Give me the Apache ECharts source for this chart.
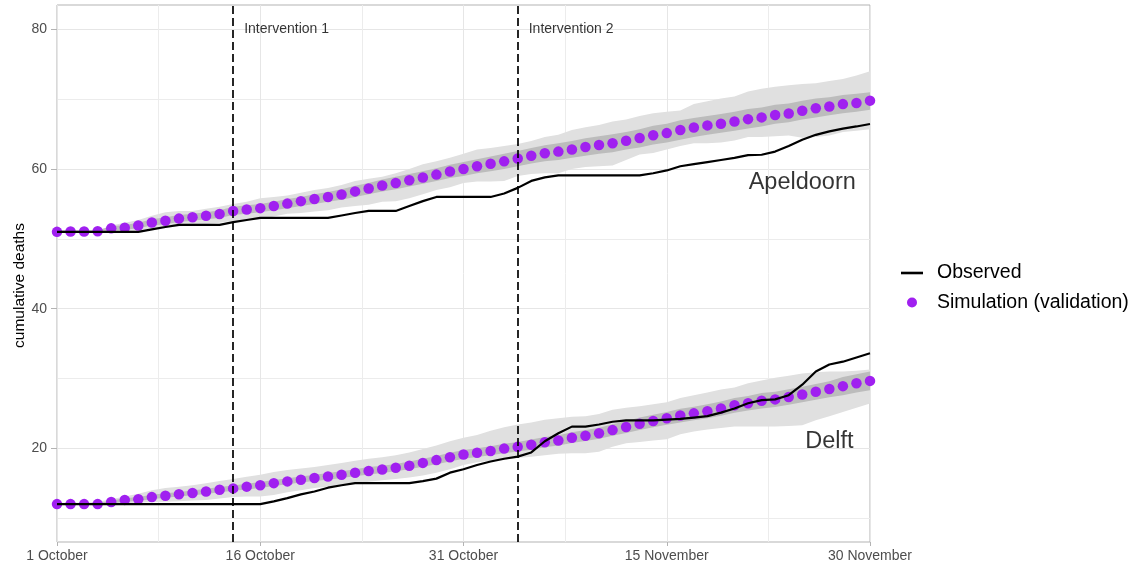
<!DOCTYPE html>
<html>
<head>
<meta charset="utf-8">
<script src="https://cdn.jsdelivr.net/npm/echarts@6/dist/echarts.min.js"></script>
<style>
  html, body { margin: 0; padding: 0; background: #fff; }
  #chart { width: 1139px; height: 568px; }
</style>
</head>
<body>
<div id="chart"></div>
<script>
// Days since 1 October (0 = 1 October, 60 = 30 November)
const days = Array.from({ length: 61 }, (_, i) => i);
const tickLabels = ['1 October', '16 October', '31 October', '15 November', '30 November'];
const yTicks = [20, 40, 60, 80];
const interventions = [13, 34];
const interventionNames = ['Intervention 1', 'Intervention 2'];

// Apeldoorn
const apelObserved = [51, 51, 51, 51, 51, 51, 51, 51.35, 51.7, 52, 52, 52, 52, 52.4, 52.7, 53, 53, 53, 53, 53, 53,
  53.35, 53.7, 54, 54, 54, 54.7, 55.4, 56, 56, 56, 56, 56, 56.5, 57.3, 58.3, 58.8, 59.1, 59.1, 59.1, 59.1,
  59.1, 59.1, 59.1, 59.4, 59.8, 60.4, 60.7, 61.0, 61.3, 61.6, 62.0, 62.05, 62.5, 63.3, 64.2, 64.9, 65.4, 65.8, 66.1, 66.45];
const apelSim = [51, 51.05, 51.05, 51.1, 51.5, 51.6, 51.9, 52.35, 52.6, 52.9, 53.1, 53.3, 53.55, 54.0, 54.2, 54.4,
  54.7, 55.05, 55.4, 55.7, 56.0, 56.35, 56.8, 57.2, 57.65, 58.0, 58.4, 58.8, 59.2, 59.65, 60.0, 60.4, 60.75, 61.1,
  61.5, 61.9, 62.25, 62.5, 62.8, 63.15, 63.45, 63.7, 64.05, 64.45, 64.85, 65.15, 65.6, 65.95, 66.25, 66.5, 66.8,
  67.15, 67.4, 67.75, 67.95, 68.35, 68.7, 68.95, 69.3, 69.45, 69.8];
const apelLow95 = [51, 51, 51, 51, 51.0, 51.0, 51.2, 51.5, 51.6, 51.8, 51.9, 52.1, 52.3, 52.6, 52.7, 52.8, 53.2,
  53.6, 53.7, 53.9, 54.1, 54.5, 54.7, 54.9, 55.3, 55.4, 55.8, 56.4, 57.0, 57.4, 58.0, 58.2, 58.2, 58.3, 59.0, 59.3,
  59.4, 59.4, 60.0, 60.3, 60.4, 60.5, 61.3, 62.1, 62.3, 62.8, 63.3, 63.7, 63.7, 63.8, 64.1, 64.6, 64.6, 64.7, 64.8,
  64.5, 64.6, 64.8, 65.3, 65.5, 65.7];
const apelHigh95 = [51.2, 51.2, 51.2, 51.2, 51.9, 52.3, 52.7, 53.3, 53.8, 54.0, 54.0, 54.3, 54.6, 55.0, 55.3, 55.8,
  56.0, 56.2, 56.6, 57.0, 57.3, 57.7, 58.3, 58.6, 58.9, 59.4, 60.0, 60.7, 61.1, 61.6, 62.2, 62.8, 63.0, 63.3, 63.6,
  64.0, 64.6, 64.9, 65.6, 66.0, 66.3, 66.8, 67.1, 67.6, 68.0, 68.2, 68.4, 69.3, 69.7, 70.1, 70.4, 71.1, 71.5, 71.8,
  72.0, 72.2, 72.3, 72.6, 72.9, 73.4, 74.0];
const apelLow50 = [51, 51, 51, 51, 51.2, 51.3, 51.5, 51.9, 52.1, 52.4, 52.6, 52.8, 53.0, 53.4, 53.6, 53.8, 54.1,
  54.4, 54.7, 55.0, 55.3, 55.6, 56.0, 56.4, 56.8, 57.1, 57.5, 57.9, 58.3, 58.7, 59.0, 59.4, 59.7, 60.0, 60.4, 60.8,
  61.1, 61.3, 61.6, 61.9, 62.2, 62.4, 62.8, 63.1, 63.5, 63.8, 64.2, 64.6, 64.9, 65.2, 65.5, 65.8, 66.1, 66.5, 66.7,
  67.1, 67.4, 67.7, 68.0, 68.2, 68.5];
const apelHigh50 = [51.2, 51.2, 51.2, 51.2, 51.8, 52.0, 52.3, 52.8, 53.1, 53.4, 53.6, 53.8, 54.1, 54.6, 54.8, 55.0,
  55.3, 55.7, 56.0, 56.4, 56.7, 57.1, 57.6, 58.0, 58.5, 58.9, 59.3, 59.7, 60.1, 60.6, 61.0, 61.4, 61.8, 62.2, 62.6,
  63.0, 63.4, 63.7, 64.0, 64.4, 64.7, 65.0, 65.3, 65.7, 66.2, 66.5, 67.0, 67.3, 67.6, 67.9, 68.2, 68.6, 68.8, 69.2,
  69.4, 69.8, 70.1, 70.3, 70.6, 70.8, 71.0];

// Delft
const delftObserved = [12, 12, 12, 12, 12, 12, 12, 12, 12, 12, 12, 12, 12, 12, 12, 12, 12.4, 12.85, 13.4, 13.8,
  14.35, 14.7, 15.0, 15, 15, 15, 15, 15.3, 15.65, 16.5, 17.0, 17.6, 18.1, 18.5, 18.8, 19.4, 21.0, 22.15, 23.1,
  23.1, 23.4, 23.8, 24.0, 24.0, 24.0, 24.1, 24.2, 24.4, 24.6, 25.1, 25.7, 26.45, 26.9, 27.0, 27.6, 29.1, 31.0,
  32.0, 32.4, 33.0, 33.6];
const delftSim = [12, 12, 12, 12, 12.3, 12.6, 12.7, 13.0, 13.2, 13.4, 13.6, 13.8, 14.05, 14.25, 14.5, 14.7, 15.0,
  15.25, 15.5, 15.75, 15.95, 16.2, 16.5, 16.75, 16.95, 17.2, 17.5, 17.9, 18.3, 18.7, 19.1, 19.35, 19.6, 19.95, 20.2,
  20.5, 20.85, 21.1, 21.5, 21.8, 22.15, 22.6, 23.05, 23.5, 23.9, 24.3, 24.7, 25.0, 25.3, 25.7, 26.15, 26.45, 26.8,
  27.0, 27.35, 27.7, 28.1, 28.5, 28.9, 29.3, 29.65];
const delftLow95 = [12, 12, 12, 12, 11.95, 12.0, 12.2, 12.3, 12.35, 12.4, 12.5, 12.6, 12.8, 13.0, 13.1, 13.1, 13.3,
  13.7, 14.0, 14.3, 14.5, 14.7, 14.9, 15.2, 15.4, 15.6, 15.8, 16.1, 16.5, 17.0, 17.6, 18.0, 18.2, 18.4, 18.6, 18.8,
  19.0, 19.2, 19.3, 19.3, 19.5, 20.2, 20.7, 20.9, 21.1, 21.3, 22.0, 22.4, 22.7, 22.9, 23.1, 23.1, 23.1, 23.1, 23.2,
  23.3, 24.0, 24.6, 25.2, 25.8, 26.4];
const delftHigh95 = [12.2, 12.2, 12.2, 12.3, 12.7, 13.1, 13.5, 14.0, 14.3, 14.5, 14.7, 15.0, 15.3, 15.6, 15.9, 16.2,
  16.6, 16.9, 17.1, 17.3, 17.6, 17.9, 18.2, 18.5, 18.7, 19.0, 19.4, 19.9, 20.4, 21.0, 21.5, 21.9, 22.5, 23.0, 23.4,
  23.7, 24.1, 24.3, 24.5, 24.6, 24.9, 25.5, 25.8, 26.0, 26.3, 26.6, 27.2, 27.6, 28.0, 28.4, 28.7, 29.3, 29.7, 30.1,
  30.4, 30.7, 30.9, 31.0, 31.0, 31.1, 31.3];
const delftLow50 = [12, 12, 12, 12, 12.1, 12.35, 12.45, 12.7, 12.9, 13.1, 13.25, 13.45, 13.7, 13.9, 14.1, 14.3,
  14.6, 14.85, 15.1, 15.3, 15.5, 15.75, 16.0, 16.25, 16.45, 16.7, 17.0, 17.35, 17.7, 18.1, 18.5, 18.75, 19.0, 19.3,
  19.55, 19.8, 20.15, 20.4, 20.75, 21.05, 21.35, 21.8, 22.2, 22.6, 23.0, 23.35, 23.7, 24.0, 24.3, 24.65, 25.1, 25.4,
  25.7, 25.9, 26.25, 26.6, 26.95, 27.3, 27.6, 28.0, 28.3];
const delftHigh50 = [12.05, 12.05, 12.05, 12.1, 12.5, 12.85, 13.0, 13.35, 13.55, 13.75, 13.95, 14.2, 14.45, 14.65,
  14.9, 15.15, 15.45, 15.7, 15.95, 16.2, 16.45, 16.7, 17.0, 17.3, 17.5, 17.75, 18.1, 18.5, 18.9, 19.35, 19.75, 20.0,
  20.3, 20.65, 20.9, 21.25, 21.6, 21.85, 22.3, 22.6, 22.95, 23.45, 23.9, 24.4, 24.8, 25.2, 25.65, 25.95, 26.3, 26.7,
  27.2, 27.5, 27.9, 28.1, 28.45, 28.8, 29.2, 29.6, 30.2, 30.6, 31.0];

const cityLabels = [[55, 58, 'Apeldoorn'], [57, 21, 'Delft']];

const FONT = '"Liberation Sans", Arial, Helvetica, sans-serif';
const PURPLE = '#a020f0';

// Shaded interval drawn as one polygon through the axis scales
function band(name, low, high, color, z) {
  return {
    name: name,
    type: 'custom',
    z: z,
    silent: true,
    data: days.map((d, i) => [d, low[i], high[i]]),
    encode: { x: 0, y: [1, 2] },
    renderItem: function (params, api) {
      if (params.dataIndex !== 0) return null;
      const pts = [];
      for (let i = 0; i < days.length; i++) pts.push(api.coord([days[i], high[i]]));
      for (let i = days.length - 1; i >= 0; i--) pts.push(api.coord([days[i], low[i]]));
      return { type: 'polygon', shape: { points: pts }, style: { fill: color } };
    }
  };
}

function observed(values) {
  return {
    name: 'Observed',
    type: 'line',
    z: 4,
    data: days.map((d, i) => [d, values[i]]),
    showSymbol: false,
    symbol: 'none',
    color: '#000',
    lineStyle: { color: '#000', width: 2.2 },
    silent: true
  };
}

function simulation(values) {
  return {
    name: 'Simulation (validation)',
    type: 'scatter',
    z: 3,
    data: days.map((d, i) => [d, values[i]]),
    symbolSize: 10.5,
    color: PURPLE,
    itemStyle: { color: PURPLE, opacity: 1 },
    silent: true
  };
}

const chart = echarts.init(document.getElementById('chart'), null, { renderer: 'canvas' });

chart.setOption({
  animation: false,
  backgroundColor: '#fff',
  textStyle: { fontFamily: FONT },
  grid: {
    left: 57, right: 269, top: 5, bottom: 26,
    outerBoundsMode: 'none',
    containLabel: false,
    show: true, borderColor: '#b3b3b3', borderWidth: 1, backgroundColor: '#fff'
  },
  legend: {
    orient: 'vertical',
    left: 901,
    top: 263,
    padding: 0,
    itemWidth: 22,
    itemHeight: 10,
    itemGap: 9.5,
    selectedMode: false,
    textStyle: { fontFamily: FONT, fontSize: 19.5, color: '#000', lineHeight: 20, padding: [0, 0, 0, 9] },
    data: [
      { name: 'Observed', icon: 'path://M0 0H22V2.6H0Z', itemStyle: { color: '#000', borderWidth: 0 } },
      { name: 'Simulation (validation)', icon: 'circle', itemStyle: { color: PURPLE, borderWidth: 0, opacity: 1 } }
    ]
  },
  xAxis: {
    type: 'value',
    min: 0,
    max: 60,
    interval: 15,
    axisLine: { show: false },
    axisTick: { show: true, length: 4, lineStyle: { color: '#b3b3b3' } },
    axisLabel: {
      margin: 7,
      fontSize: 14,
      color: '#4d4d4d',
      fontFamily: FONT,
      formatter: v => tickLabels[Math.round(v / 15)] || ''
    },
    splitLine: { show: true, lineStyle: { color: '#e6e6e6', width: 1 } },
    minorTick: { show: false, splitNumber: 2 },
    minorSplitLine: { show: true, lineStyle: { color: '#ececec', width: 1 } }
  },
  yAxis: {
    type: 'value',
    min: 6.57,
    max: 83.5,
    splitNumber: 4,
    name: 'cumulative deaths',
    nameLocation: 'middle',
    nameGap: 29,
    nameMoveOverlap: false,
    nameTextStyle: { fontSize: 15.5, color: '#000', fontFamily: FONT, padding: [0, 24, 0, 0] },
    axisLine: { show: false },
    axisTick: { show: true, length: 6, lineStyle: { color: '#b3b3b3' }, customValues: yTicks },
    axisLabel: {
      margin: 10,
      fontSize: 14,
      color: '#4d4d4d',
      fontFamily: FONT,
      customValues: yTicks,
      formatter: v => String(v)
    },
    splitLine: { show: true, lineStyle: { color: '#e6e6e6', width: 1 } },
    minorTick: { show: false, splitNumber: 2 },
    minorSplitLine: { show: true, lineStyle: { color: '#ececec', width: 1 } }
  },
  series: [
    band('apel95', apelLow95, apelHigh95, '#e0e0e0', 1),
    band('apel50', apelLow50, apelHigh50, '#bcbcbc', 2),
    band('delft95', delftLow95, delftHigh95, '#e0e0e0', 1),
    band('delft50', delftLow50, delftHigh50, '#bcbcbc', 2),
    simulation(apelSim),
    simulation(delftSim),
    observed(apelObserved),
    observed(delftObserved),
    {
      name: 'interventions',
      type: 'scatter',
      z: 6,
      symbolSize: 0,
      silent: true,
      data: interventions.map((d, i) => [d, 80, interventionNames[i]]),
      label: {
        show: true,
        position: 'right',
        distance: 11,
        fontSize: 14,
        color: '#000',
        fontFamily: FONT,
        formatter: p => p.data[2]
      },
      markLine: {
        silent: true,
        symbol: ['none', 'none'],
        label: { show: false },
        lineStyle: { color: '#000', type: [8, 4], width: 1.7 },
        data: interventions.map(d => ({ xAxis: d }))
      }
    },
    {
      name: 'cities',
      type: 'scatter',
      z: 6,
      symbolSize: 0,
      silent: true,
      data: cityLabels,
      label: {
        show: true,
        position: 'inside',
        fontSize: 23.5,
        color: '#000',
        fontFamily: FONT,
        formatter: p => p.data[2]
      }
    }
  ]
});
</script>
</body>
</html>
